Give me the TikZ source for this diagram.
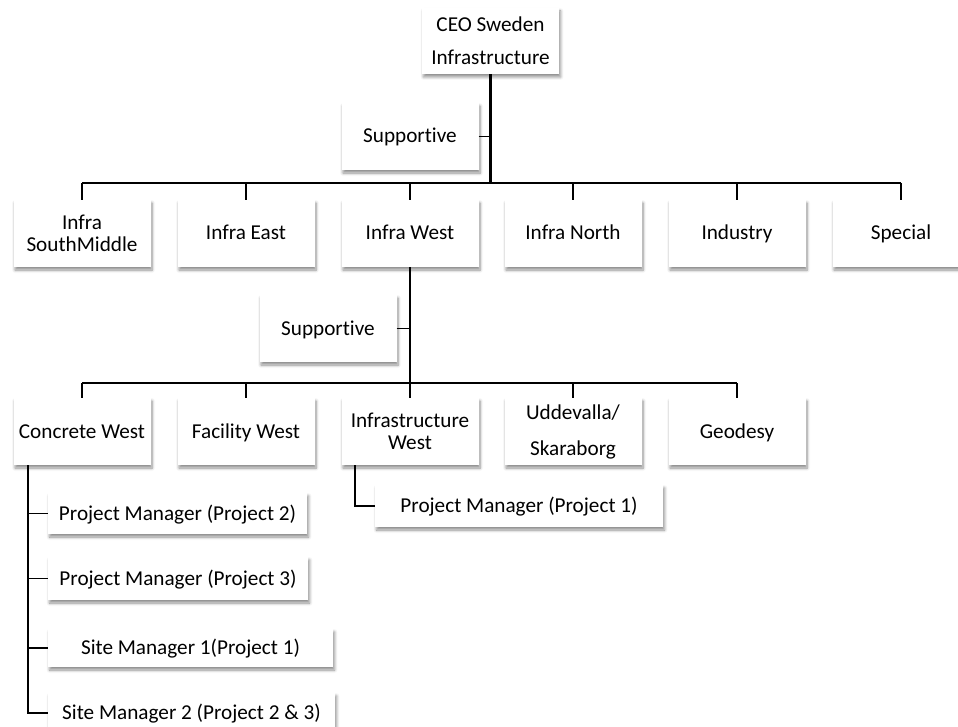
\documentclass[tikz,border=0pt]{standalone}
\usepackage{fontspec}
\setmainfont{Carlito}[RawFeature=-liga]
\usetikzlibrary{shadows.blur}
\begin{document}
\begin{tikzpicture}[x=1pt,y=-1pt,
  box/.style={fill=white, align=center, inner sep=0pt,
    font=\fontsize{21.2}{22}\selectfont,
    blur shadow={shadow xshift=1.5pt, shadow yshift=-3pt, shadow blur radius=3pt,
      shadow blur steps=6, shadow opacity=45}},
  one/.style={text height=14pt, text depth=1pt},
  unit/.style={box, minimum width=137pt, minimum height=67pt},
  role/.style={box, one, minimum height=40pt},
  link/.style={line width=1.4pt},
  trunk/.style={line width=2.2pt}]
\useasboundingbox (0,0) rectangle (958,727);

% top level
\node[unit, minimum height=66pt, font=\fontsize{21.2}{33}\selectfont] (ceo) at (490.5,41) {CEO Sweden\\Infrastructure};
\node[unit, one] (sup1) at (410,136.5) {Supportive};

% business areas
\node[unit] (ism) at (82,233.5) {Infra\\SouthMiddle};
\node[unit, one] (ie)  at (246,233.5) {Infra East};
\node[unit, one] (iw)  at (410,233.5) {Infra West};
\node[unit, one] (in)  at (573,233.5) {Infra North};
\node[unit, one] (ind) at (737,233.5) {Industry};
\node[unit, one] (spc) at (901,233.5) {Special};

% Infra West units
\node[unit, one] (sup2) at (328,328.5) {Supportive};
\node[unit, one] (cw)  at (82,431.5) {Concrete West};
\node[unit, one] (fw)  at (246,431.5) {Facility West};
\node[unit] (iwu) at (410,431.5) {Infrastructure\\West};
\node[unit, font=\fontsize{21.2}{36}\selectfont] (uds) at (573,431.5) {Uddevalla/\\Skaraborg};
\node[unit, one] (geo) at (737,431.5) {Geodesy};

% project roles
\node[role, minimum width=259pt, minimum height=41pt] (pm2) at (177.5,513.5) {Project Manager (Project 2)};
\node[role, minimum width=260pt, minimum height=43pt] (pm3) at (178,578.5) {Project Manager (Project 3)};
\node[role, minimum width=285pt, minimum height=38pt] (sm1) at (190.5,648) {Site Manager 1(Project 1)};
\node[role, minimum width=287pt] (sm2) at (191.5,713) {Site Manager 2 (Project 2 \& 3)};
\node[role, minimum width=288pt, minimum height=42pt] (pm1) at (519,506) {Project Manager (Project 1)};

% bus coordinates
\coordinate (bus1) at (490.5,183);
\coordinate (bus2) at (410,383);
\coordinate (cwl) at (28,465);
\coordinate (iwl) at (355,465);

% connectors, top level
\draw[trunk] (ceo.south) -- (bus1);
\draw[link] (sup1.east) -- (sup1.east -| bus1);
\draw[link] (ism.north |- bus1) -- (spc.north |- bus1);
\foreach \n in {ism,ie,iw,in,ind,spc}
  \draw[link] (\n.north |- bus1) -- (\n.north);

% connectors, Infra West
\draw[trunk] (iw.south) -- (bus2);
\draw[link] (sup2.east) -- (sup2.east -| bus2);
\draw[link] (cw.north |- bus2) -- (geo.north |- bus2);
\foreach \n in {cw,fw,iwu,uds,geo}
  \draw[link] (\n.north |- bus2) -- (\n.north);

% connectors, roles
\draw[link] (cwl) |- (sm2.west);
\foreach \n in {pm2,pm3,sm1}
  \draw[link] (cwl |- \n.west) -- (\n.west);
\draw[link] (iwl) |- (pm1.west);
\end{tikzpicture}
\end{document}
